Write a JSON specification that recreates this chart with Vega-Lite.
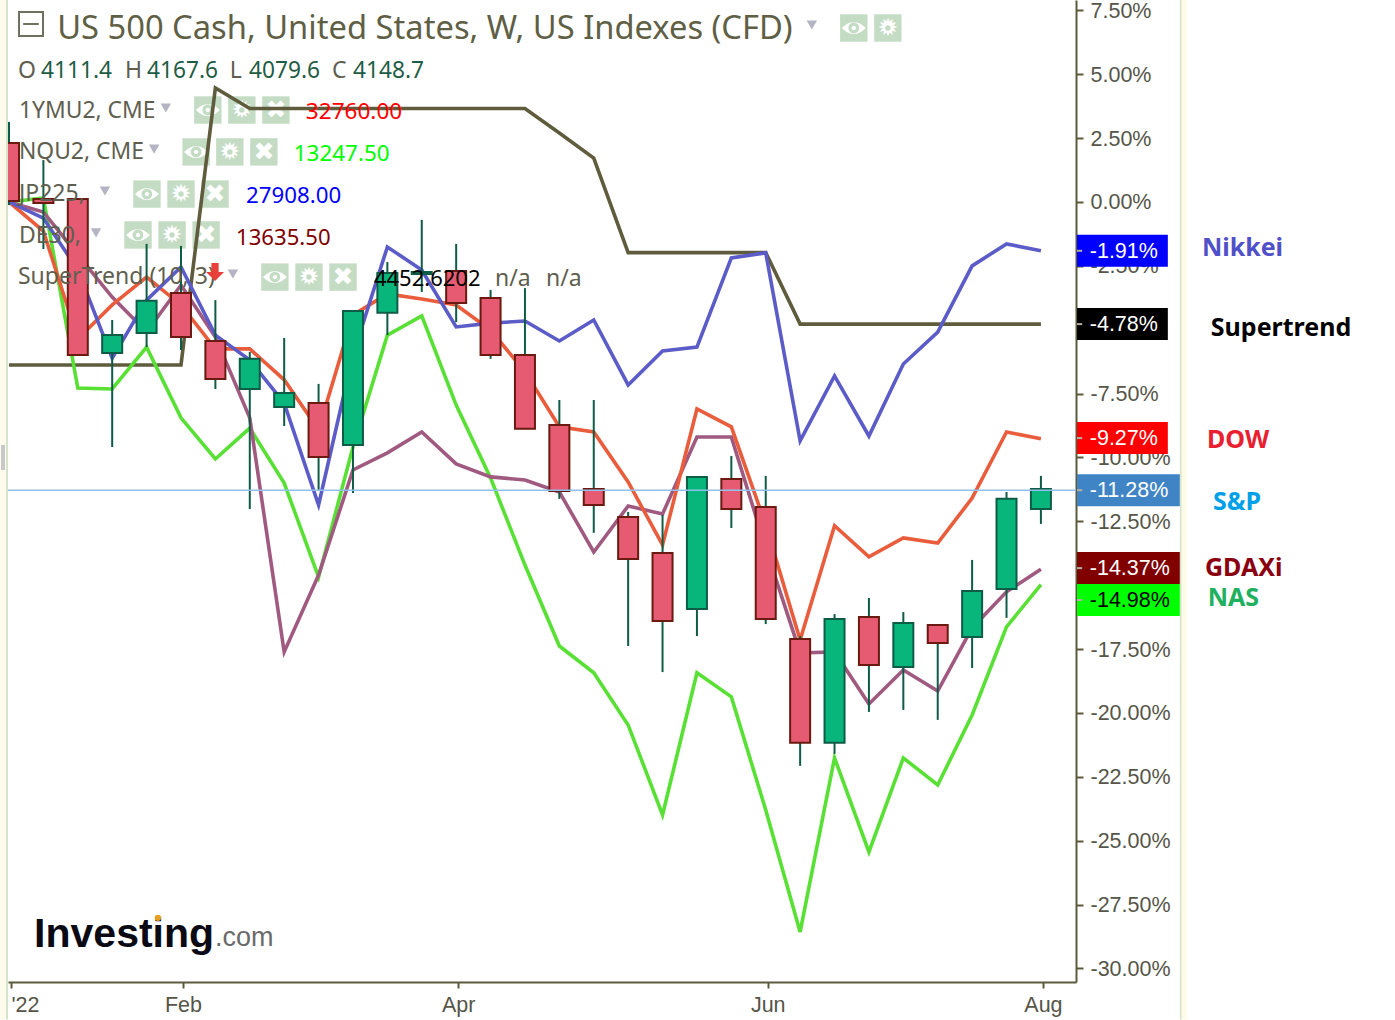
{
  "$schema": "https://vega.github.io/schema/vega-lite/v6.json",
  "autosize": {"type": "none"},
  "padding": {"left": 8, "top": 0, "right": 319, "bottom": 38},
  "width": 1068,
  "height": 982,
  "background": "#ffffff",
  "view": {"stroke": null},
  "config": {"text": {"font": "Noto Sans"}},
  "datasets": {
    "weekly": [
      {"week":0,"dir":"down","open":2.31,"close":0.04,"high":3.13,"low":-0.12,"supertrend":-6.38,"nas":0,"dax":0,"dow":0,"nikkei":0},
      {"week":1,"dir":"down","open":0.12,"close":-0.04,"high":1.64,"low":-1.84,"supertrend":-6.38,"nas":0.16,"dax":-0.39,"dow":-1.14,"nikkei":-0.63},
      {"week":2,"dir":"down","open":0.12,"close":-5.99,"high":0.12,"low":-5.99,"supertrend":-6.38,"nas":-7.28,"dax":-2.07,"dow":-5.36,"nikkei":-2.66},
      {"week":3,"dir":"up","open":-5.91,"close":-5.21,"high":-4.62,"low":-9.59,"supertrend":-6.38,"nas":-7.32,"dax":-3.72,"dow":-4.03,"nikkei":-6.11},
      {"week":4,"dir":"up","open":-5.13,"close":-3.87,"high":-1.64,"low":-5.68,"supertrend":-6.38,"nas":-5.68,"dax":-5.09,"dow":-2.94,"nikkei":-3.84},
      {"week":5,"dir":"down","open":-3.56,"close":-5.28,"high":-1.72,"low":-5.79,"supertrend":-6.38,"nas":-8.45,"dax":-3.25,"dow":-4.03,"nikkei":-2.54},
      {"week":6,"dir":"down","open":-5.44,"close":-6.93,"high":-3.84,"low":-7.32,"supertrend":4.46,"nas":-10.06,"dax":-5.28,"dow":-5.75,"nikkei":-5.21},
      {"week":7,"dir":"up","open":-7.32,"close":-6.14,"high":-5.87,"low":-12.02,"supertrend":3.66,"nas":-8.85,"dax":-8.45,"dow":-5.75,"nikkei":-6.19},
      {"week":8,"dir":"up","open":-8.02,"close":-7.48,"high":-5.32,"low":-8.77,"supertrend":3.66,"nas":-11.0,"dax":-17.61,"dow":-6.96,"nikkei":-7.87},
      {"week":9,"dir":"down","open":-7.87,"close":-9.98,"high":-7.12,"low":-11.27,"supertrend":3.66,"nas":-14.68,"dax":-14.6,"dow":-8.92,"nikkei":-11.86},
      {"week":10,"dir":"up","open":-9.51,"close":-4.27,"high":-4.27,"low":-11.39,"supertrend":3.66,"nas":-9.59,"dax":-10.49,"dow":-4.42,"nikkei":-5.99},
      {"week":11,"dir":"up","open":-4.34,"close":-2.78,"high":-2.35,"low":-5.21,"supertrend":3.66,"nas":-5.21,"dax":-9.82,"dow":-3.6,"nikkei":-1.76},
      {"week":12,"dir":"up","open":-2.82,"close":-2.74,"high":-0.7,"low":-3.52,"supertrend":3.66,"nas":-4.46,"dax":-9.0,"dow":-3.8,"nikkei":-2.66},
      {"week":13,"dir":"down","open":-2.7,"close":-3.95,"high":-1.64,"low":-4.7,"supertrend":3.66,"nas":-7.95,"dax":-10.25,"dow":-4.03,"nikkei":-4.89},
      {"week":14,"dir":"down","open":-3.76,"close":-5.99,"high":-3.44,"low":-6.14,"supertrend":3.66,"nas":-10.8,"dax":-10.76,"dow":-5.01,"nikkei":-4.74},
      {"week":15,"dir":"down","open":-5.99,"close":-8.88,"high":-3.37,"low":-8.88,"supertrend":3.66,"nas":-14.21,"dax":-10.88,"dow":-6.65,"nikkei":-4.66},
      {"week":16,"dir":"down","open":-8.73,"close":-11.31,"high":-7.75,"low":-11.62,"supertrend":2.7,"nas":-17.38,"dax":-11.35,"dow":-8.8,"nikkei":-5.44},
      {"week":17,"dir":"down","open":-11.23,"close":-11.86,"high":-7.75,"low":-12.95,"supertrend":1.72,"nas":-18.43,"dax":-13.7,"dow":-9.0,"nikkei":-4.62},
      {"week":18,"dir":"down","open":-12.33,"close":-13.97,"high":-12.13,"low":-17.38,"supertrend":-1.98,"nas":-20.47,"dax":-11.9,"dow":-10.96,"nikkei":-7.16},
      {"week":19,"dir":"down","open":-13.74,"close":-16.4,"high":-12.25,"low":-18.4,"supertrend":-1.98,"nas":-23.99,"dax":-12.21,"dow":-13.42,"nikkei":-5.83},
      {"week":20,"dir":"up","open":-15.93,"close":-10.76,"high":-10.76,"low":-16.99,"supertrend":-1.98,"nas":-18.43,"dax":-9.2,"dow":-8.1,"nikkei":-5.68},
      {"week":21,"dir":"down","open":-10.84,"close":-12.02,"high":-9.94,"low":-12.76,"supertrend":-1.98,"nas":-19.37,"dax":-9.2,"dow":-8.8,"nikkei":-2.19},
      {"week":22,"dir":"down","open":-11.94,"close":-16.32,"high":-10.72,"low":-16.52,"supertrend":-1.98,"nas":-23.8,"dax":-13.54,"dow":-12.64,"nikkei":-1.99},
      {"week":23,"dir":"down","open":-17.1,"close":-21.17,"high":-16.99,"low":-22.07,"supertrend":-4.78,"nas":-28.57,"dax":-17.65,"dow":-17.14,"nikkei":-9.35},
      {"week":24,"dir":"up","open":-21.17,"close":-16.32,"high":-16.13,"low":-21.6,"supertrend":-4.78,"nas":-21.76,"dax":-17.61,"dow":-12.67,"nikkei":-6.81},
      {"week":25,"dir":"down","open":-16.24,"close":-18.12,"high":-15.5,"low":-19.96,"supertrend":-4.78,"nas":-25.44,"dax":-19.65,"dow":-13.89,"nikkei":-9.16},
      {"week":26,"dir":"up","open":-18.2,"close":-16.48,"high":-16.05,"low":-19.88,"supertrend":-4.78,"nas":-21.76,"dax":-18.32,"dow":-13.15,"nikkei":-6.34},
      {"week":27,"dir":"down","open":-16.56,"close":-17.26,"high":-16.56,"low":-20.27,"supertrend":-4.78,"nas":-22.82,"dax":-19.14,"dow":-13.35,"nikkei":-5.09},
      {"week":28,"dir":"up","open":-17.03,"close":-15.23,"high":-14.01,"low":-18.24,"supertrend":-4.78,"nas":-20.08,"dax":-16.67,"dow":-11.59,"nikkei":-2.5},
      {"week":29,"dir":"up","open":-15.15,"close":-11.62,"high":-11.35,"low":-16.28,"supertrend":-4.78,"nas":-16.63,"dax":-15.26,"dow":-9.0,"nikkei":-1.64},
      {"week":30,"dir":"up","open":-12.02,"close":-11.23,"high":-10.72,"low":-12.6,"supertrend":-4.78,"nas":-14.98,"dax":-14.37,"dow":-9.27,"nikkei":-1.91}
    ],
    "badges": [
      {"series":"Nikkei","pct":-1.91,"label":"-1.91%","from":31.05,"to":33.69,"tickTo":31.2,"textAt":31.42},
      {"series":"Supertrend","pct":-4.78,"label":"-4.78%","from":31.05,"to":33.69,"tickTo":31.2,"textAt":31.42},
      {"series":"DOW","pct":-9.24,"label":"-9.27%","from":31.05,"to":33.69,"tickTo":31.2,"textAt":31.42},
      {"series":"S&P","pct":-11.28,"label":"-11.28%","from":31.05,"to":34.04,"tickTo":31.2,"textAt":31.42},
      {"series":"GDAXi","pct":-14.33,"label":"-14.37%","from":31.05,"to":34.04,"tickTo":31.2,"textAt":31.42},
      {"series":"NAS","pct":-15.58,"label":"-14.98%","from":31.05,"to":34.04,"tickTo":31.2,"textAt":31.42}
    ],
    "tags": [
      {"label":"Nikkei","week":34.68,"pct":-1.76},
      {"label":"Supertrend","week":34.94,"pct":-4.89},
      {"label":"DOW","week":34.83,"pct":-9.28},
      {"label":"S&P","week":35.0,"pct":-11.7},
      {"label":"GDAXi","week":34.77,"pct":-14.29},
      {"label":"NAS","week":34.85,"pct":-15.46}
    ],
    "legend": [
      {"label":"O","group":"name","week":0.26,"pct":5.17},
      {"label":"4111.4","group":"ohlc","week":0.93,"pct":5.17},
      {"label":"H","group":"name","week":3.37,"pct":5.17},
      {"label":"4167.6","group":"ohlc","week":4.01,"pct":5.17},
      {"label":"L","group":"name","week":6.42,"pct":5.17},
      {"label":"4079.6","group":"ohlc","week":6.98,"pct":5.17},
      {"label":"C","group":"name","week":9.39,"pct":5.17},
      {"label":"4148.7","group":"ohlc","week":10.0,"pct":5.17},
      {"label":"1YMU2, CME","group":"feed","week":0.29,"pct":3.6},
      {"label":"NQU2, CME","group":"feed","week":0.29,"pct":2.0},
      {"label":"JP225,","group":"name","week":0.29,"pct":0.35},
      {"label":"DE30,","group":"name","week":0.29,"pct":-1.29},
      {"label":"SuperTrend (10, 3)","group":"name","week":0.26,"pct":-2.9},
      {"label":"n/a","group":"name","week":14.13,"pct":-2.97},
      {"label":"n/a","group":"name","week":15.61,"pct":-2.97},
      {"label":"32760.00","group":"ym","week":8.63,"pct":3.56},
      {"label":"13247.50","group":"nq","week":8.28,"pct":1.92},
      {"label":"27908.00","group":"jp","week":6.89,"pct":0.27},
      {"label":"13635.50","group":"de","week":6.6,"pct":-1.37},
      {"label":"4452.6202","group":"st","week":10.61,"pct":-2.97}
    ],
    "buttons": [
      {"glyph":"eye","week":24.56,"pct":6.81},
      {"glyph":"✹","week":25.55,"pct":6.81},
      {"glyph":"eye","week":5.78,"pct":3.6},
      {"glyph":"✹","week":6.77,"pct":3.6},
      {"glyph":"✖","week":7.76,"pct":3.6},
      {"glyph":"eye","week":5.44,"pct":1.96},
      {"glyph":"✹","week":6.42,"pct":1.96},
      {"glyph":"✖","week":7.41,"pct":1.96},
      {"glyph":"eye","week":4.01,"pct":0.31},
      {"glyph":"✹","week":5.0,"pct":0.31},
      {"glyph":"✖","week":5.99,"pct":0.31},
      {"glyph":"eye","week":3.75,"pct":-1.29},
      {"glyph":"✹","week":4.74,"pct":-1.29},
      {"glyph":"✖","week":5.73,"pct":-1.29},
      {"glyph":"eye","week":7.73,"pct":-2.94},
      {"glyph":"✹","week":8.72,"pct":-2.94},
      {"glyph":"✖","week":9.71,"pct":-2.94}
    ],
    "menus": [
      {"week":23.34,"pct":6.93},
      {"week":4.56,"pct":3.68},
      {"week":4.22,"pct":2.07},
      {"week":2.79,"pct":0.43},
      {"week":2.53,"pct":-1.21},
      {"week":6.51,"pct":-2.82}
    ],
    "edges": [
      {"week":-0.174,"top":7.906,"bottom":-32,"part":"margin"},
      {"week":-0.06,"top":7.906,"bottom":-32,"part":"line"},
      {"week":34.07,"top":7.906,"bottom":-32,"part":"line"},
      {"week":34.16,"top":7.906,"bottom":-32,"part":"margin"},
      {"week":-0.174,"top":-9.51,"bottom":-10.49,"part":"handle"}
    ]
  },
  "data": {"name": "weekly"},
  "encoding": {
    "x": {
      "field": "week",
      "type": "quantitative",
      "title": null,
      "scale": {"domain": [-0.029, 31.02], "nice": false, "zero": false, "padding": 0},
      "axis": {
        "values": [0, 5, 13, 22, 30],
        "labelExpr": "datum.value == 0 ? \"'22\" : datum.value == 5 ? 'Feb' : datum.value == 13 ? 'Apr' : datum.value == 22 ? 'Jun' : 'Aug'",
        "grid": false,
        "title": null,
        "domainColor": "#5c5a3c",
        "domainWidth": 2,
        "tickColor": "#5c5a3c",
        "tickWidth": 2,
        "tickSize": 6,
        "tickOffset": 2,
        "labelFont": "Liberation Sans",
        "labelFontSize": 21.5,
        "labelColor": "#555548",
        "labelPadding": 6,
        "labelOverlap": false,
        "encode": {"labels": {"update": {"align": {"signal": "datum.value == 0 ? 'left' : 'center'"}}}}
      }
    },
    "y": {
      "field": "pct",
      "type": "quantitative",
      "title": null,
      "scale": {"domain": [-30.53, 7.906], "nice": false, "zero": false, "padding": 0},
      "axis": {
        "orient": "right",
        "values": [-30, -27.5, -25, -22.5, -20, -17.5, -15, -12.5, -10, -7.5, -5, -2.5, 0, 2.5, 5, 7.5],
        "labelExpr": "replace(format(datum.value, '.2f'), '\u2212', '-') + '%'",
        "grid": false,
        "title": null,
        "domainColor": "#5c5a3c",
        "domainWidth": 2,
        "tickColor": "#5c5a3c",
        "tickWidth": 2,
        "tickSize": 7,
        "labelFont": "Liberation Sans",
        "labelFontSize": 21.5,
        "labelColor": "#555548",
        "labelPadding": 7,
        "labelOffset": 1,
        "labelOverlap": false,
        "labelBound": false
      }
    }
  },
  "resolve": {"scale": {"color": "independent"}},
  "layer": [
    {
      "data": {"name": "buttons"},
      "mark": {"type": "point", "shape": "square", "filled": true, "size": 750, "color": "#c4dcc4", "opacity": 1}
    },
    {
      "data": {"name": "buttons"},
      "transform": [{"filter": "datum.glyph !== 'eye'"}],
      "mark": {"type": "text", "font": "DejaVu Sans", "fontSize": 25, "color": "#ffffff", "baseline": "middle", "align": "center"},
      "encoding": {"text": {"field": "glyph"}}
    },
    {
      "data": {"name": "buttons"},
      "transform": [{"filter": "datum.glyph === '✹'"}],
      "mark": {"type": "point", "shape": "circle", "filled": true, "size": 30, "color": "#c4dcc4", "opacity": 1}
    },
    {
      "data": {"name": "buttons"},
      "transform": [{"filter": "datum.glyph === 'eye'"}],
      "mark": {
        "type": "point",
        "shape": "M-1,0Q0,-1 1,0Q0,1 -1,0Z M0.45,0A0.45,0.45 0 1 0 -0.45,0A0.45,0.45 0 1 0 0.45,0Z M0.18,0A0.18,0.18 0 1 1 -0.18,0A0.18,0.18 0 1 1 0.18,0Z",
        "filled": true,
        "size": 576,
        "color": "#ffffff",
        "opacity": 1
      }
    },
    {
      "transform": [{"fold": ["supertrend", "nas", "dax", "dow", "nikkei"], "as": ["series", "value"]}],
      "mark": {"type": "line", "clip": true, "strokeWidth": 3.6, "strokeJoin": "miter"},
      "encoding": {
        "y": {"field": "value", "type": "quantitative", "title": null},
        "color": {
          "field": "series",
          "type": "nominal",
          "legend": null,
          "scale": {
            "domain": ["supertrend", "nas", "dax", "dow", "nikkei"],
            "range": ["#5f5c3e", "#58e034", "#a05a80", "#e95c3c", "#5c5cc8"]
          }
        }
      }
    },
    {
      "mark": {"type": "rule", "clip": true, "strokeWidth": 2, "color": "#0f5c46"},
      "encoding": {
        "y": {"field": "low", "type": "quantitative", "title": null},
        "y2": {"field": "high"}
      }
    },
    {
      "mark": {"type": "bar", "clip": true, "orient": "vertical", "size": 20, "strokeWidth": 2},
      "encoding": {
        "y": {"field": "open", "type": "quantitative", "title": null},
        "y2": {"field": "close"},
        "fill": {
          "field": "dir",
          "type": "nominal",
          "legend": null,
          "scale": {"domain": ["up", "down"], "range": ["#08b67c", "#e65a72"]}
        },
        "stroke": {
          "field": "dir",
          "type": "nominal",
          "legend": null,
          "scale": {"domain": ["up", "down"], "range": ["#0f5c46", "#6a1a10"]}
        }
      }
    },
    {
      "data": {"values": [{"from": -0.029, "to": 31.02, "pct": -11.28}]},
      "mark": {"type": "rule", "strokeWidth": 1.5, "color": "#8fc0ee", "clip": true},
      "encoding": {
        "x": {"field": "from", "type": "quantitative", "title": null},
        "x2": {"field": "to"}
      }
    },
    {
      "data": {"values": [{"label": "US 500 Cash, United States, W, US Indexes (CFD)", "week": 1.4, "pct": 6.85}]},
      "mark": {"type": "text", "font": "Noto Sans", "fontSize": 32.7, "align": "left", "baseline": "middle", "dy": 2, "color": "#5f5f45"},
      "encoding": {"text": {"field": "label"}}
    },
    {
      "data": {"values": [{"week": 0.64, "pct": 6.97}]},
      "mark": {"type": "point", "shape": "M-1,-1H1V1H-1Z M-0.65,0H0.65", "size": 576, "filled": false, "color": "#707060", "strokeWidth": 2, "opacity": 1}
    },
    {
      "data": {"name": "legend"},
      "mark": {"type": "text", "font": "Noto Sans", "align": "left", "baseline": "middle", "dy": 1},
      "encoding": {
        "text": {"field": "label"},
        "size": {
          "field": "group",
          "type": "ordinal",
          "legend": null,
          "scale": {
            "domain": ["name", "feed", "ohlc", "ym", "nq", "jp", "de", "st"],
            "range": [23, 22, 23, 23, 23, 23, 23, 23]
          }
        },
        "color": {
          "field": "group",
          "type": "nominal",
          "legend": null,
          "scale": {
            "domain": ["name", "feed", "ohlc", "ym", "nq", "jp", "de", "st"],
            "range": ["#5f5f50", "#5f5f50", "#1f5c45", "#ff0000", "#00ff00", "#0000ff", "#800000", "#000000"]
          }
        }
      }
    },
    {
      "data": {"name": "menus"},
      "mark": {"type": "point", "shape": "triangle-down", "filled": true, "size": 110, "color": "#b4b4c4", "opacity": 1}
    },
    {
      "data": {"values": [{"week": 5.99, "pct": -2.74}]},
      "mark": {"type": "point", "shape": "M-0.4,-1L0.4,-1L0.4,0L1,0L0,1L-1,0L-0.4,0Z", "size": 324, "filled": true, "color": "#e8403a", "opacity": 1}
    },
    {
      "data": {"name": "badges"},
      "mark": {"type": "bar", "orient": "horizontal", "size": 32},
      "encoding": {
        "x": {"field": "from", "type": "quantitative", "title": null},
        "x2": {"field": "to"},
        "color": {
          "field": "series",
          "type": "nominal",
          "legend": null,
          "scale": {
            "domain": ["Nikkei", "Supertrend", "DOW", "S&P", "GDAXi", "NAS"],
            "range": ["#0000ff", "#000000", "#ff0000", "#3f84c4", "#800000", "#00ff00"]
          }
        }
      }
    },
    {
      "data": {"name": "badges"},
      "mark": {"type": "rule", "strokeWidth": 2, "color": "#b8b0a8"},
      "encoding": {
        "x": {"field": "from", "type": "quantitative", "title": null},
        "x2": {"field": "tickTo"}
      }
    },
    {
      "data": {"name": "badges"},
      "mark": {"type": "text", "font": "Liberation Sans", "fontSize": 21.5, "align": "left", "baseline": "middle", "dy": 1},
      "encoding": {
        "x": {"field": "textAt", "type": "quantitative", "title": null},
        "text": {"field": "label"},
        "color": {"condition": {"test": "datum.series === 'NAS'", "value": "#000000"}, "value": "#ffffff"}
      }
    },
    {
      "data": {"name": "tags"},
      "mark": {"type": "text", "font": "Noto Sans", "fontWeight": "bold", "fontSize": 25, "align": "left", "baseline": "middle", "dy": 1},
      "encoding": {
        "text": {"field": "label"},
        "color": {
          "field": "label",
          "type": "nominal",
          "legend": null,
          "scale": {
            "domain": ["Nikkei", "Supertrend", "DOW", "S&P", "GDAXi", "NAS"],
            "range": ["#5050c8", "#000000", "#e8202f", "#00a0e8", "#8b0010", "#20b060"]
          }
        }
      }
    },
    {
      "data": {"values": [{"label": "Investing", "week": 0.73, "pct": -28.69}]},
      "mark": {"type": "text", "font": "Liberation Sans", "fontWeight": "bold", "fontSize": 41, "align": "left", "baseline": "middle", "color": "#0a0a14"},
      "encoding": {"text": {"field": "label"}}
    },
    {
      "data": {"values": [{"label": ".com", "week": 5.99, "pct": -28.81}]},
      "mark": {"type": "text", "font": "Liberation Sans", "fontSize": 27, "align": "left", "baseline": "middle", "color": "#6a6a6a"},
      "encoding": {"text": {"field": "label"}}
    },
    {
      "data": {"values": [{"week": 4.33, "pct": -28.02}]},
      "mark": {"type": "point", "shape": "circle", "filled": true, "size": 40, "color": "#e8a020", "opacity": 1}
    },
    {
      "data": {"name": "edges"},
      "transform": [{"filter": "datum.part === 'line'"}],
      "mark": {"type": "rule", "strokeWidth": 2, "color": "#d4e3c8"},
      "encoding": {
        "y": {"field": "top", "type": "quantitative", "title": null},
        "y2": {"field": "bottom"}
      }
    },
    {
      "data": {"name": "edges"},
      "transform": [{"filter": "datum.part === 'margin'"}],
      "mark": {"type": "rule", "strokeWidth": 5, "color": "#fdfbe8"},
      "encoding": {
        "y": {"field": "top", "type": "quantitative", "title": null},
        "y2": {"field": "bottom"}
      }
    },
    {
      "data": {"name": "edges"},
      "transform": [{"filter": "datum.part === 'handle'"}],
      "mark": {"type": "rule", "strokeWidth": 4, "color": "#c8c8c8"},
      "encoding": {
        "y": {"field": "top", "type": "quantitative", "title": null},
        "y2": {"field": "bottom"}
      }
    }
  ]
}
